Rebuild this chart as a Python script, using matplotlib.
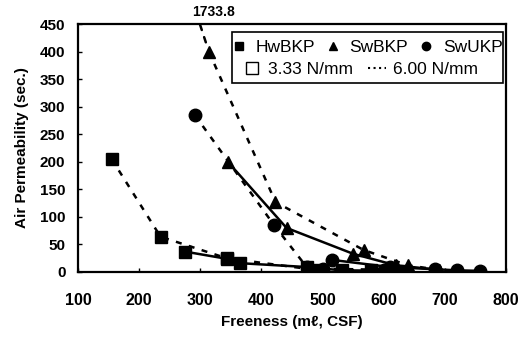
import matplotlib.pyplot as plt
from matplotlib.lines import Line2D
from matplotlib.patches import Rectangle

plt.rcParams['font.family'] = ['Liberation Sans', 'DejaVu Sans']

# HwBKP
hw_333_x = [275, 343, 365, 474, 531, 632]
hw_333_y = [37, 24, 16, 9, 3, 2]
hw_600_x = [155, 235, 343, 487, 580]
hw_600_y = [205, 64, 25, 4, 3]

# SwBKP
swb_333_x = [345, 441, 550, 620, 690]
swb_333_y = [200, 80, 33, 12, 4]
swb_600_x = [314, 423, 567, 640, 690]
swb_600_y = [400, 127, 40, 12, 4]
swb_offscale = 1733.8   # first 6.00 N/mm point, beyond axis

# SwUKP
swu_333_x = [515, 610, 684, 720, 758]
swu_333_y = [22, 9, 5, 3, 2]
swu_600_x = [291, 420, 474, 500, 600]
swu_600_y = [285, 86, 9, 6, 4]

xticks = [100, 200, 300, 400, 500, 600, 700, 800]
yticks = [0, 50, 100, 150, 200, 250, 300, 350, 400, 450]

fig = plt.figure(figsize=(5.22, 3.46), dpi=100)
ax = fig.add_axes([0.1494, 0.2139, 0.82, 0.7167])

dash = (0, (2.4, 3.0))
lw = 1.8
ms = 9

ax.plot(hw_600_x, hw_600_y, color='k', ls=dash, lw=lw, marker='s', ms=ms)
ax.plot(hw_333_x, hw_333_y, color='k', ls='-', lw=lw, marker='s', ms=ms)
ax.plot(swb_600_x, swb_600_y, color='k', ls=dash, lw=lw, marker='^', ms=ms)
ax.plot(swb_333_x, swb_333_y, color='k', ls='-', lw=lw, marker='^', ms=ms)
ax.plot(swu_600_x, swu_600_y, color='k', ls=dash, lw=lw, marker='o', ms=ms)
ax.plot(swu_333_x, swu_333_y, color='k', ls='-', lw=lw, marker='o', ms=ms)

# off-scale point label
ax.annotate(f'{swb_offscale:.1f}', xy=(swb_600_x[0], swb_600_y[0]), xytext=(321, 472),
            ha='center', va='center', fontsize=10, fontweight='bold',
            annotation_clip=False,
            arrowprops=dict(arrowstyle='-', color='k', lw=lw, ls=dash,
                            shrinkA=2, shrinkB=7, relpos=(0.15, 0)))

ax.set_xlim(100, 800)
ax.set_ylim(0, 450)
ax.set_xticks(xticks)
ax.set_yticks(yticks)
ax.tick_params(direction='in', length=3, width=1)
for lab in ax.get_xticklabels():
    lab.set_fontsize(11.5)
    lab.set_fontweight('bold')
for lab in ax.get_yticklabels():
    lab.set_fontsize(11)
    lab.set_fontweight('bold')
ax.tick_params(axis='x', pad=15)
ax.tick_params(axis='y', pad=9)
for s in ax.spines.values():
    s.set_linewidth(1.6)

ax.set_xlabel('Freeness (m\u2113, CSF)', fontsize=11, fontweight='bold', labelpad=5)
ax.set_ylabel('Air Permeability (sec.)', fontsize=11, fontweight='bold', labelpad=8)

# legend box
ax.add_patch(Rectangle((0.36, 0.762), 0.633, 0.206, transform=ax.transAxes,
                       facecolor='white', edgecolor='k', lw=1.2, zorder=5))
h1 = [Line2D([], [], color='k', ls='none', marker='s', ms=6),
      Line2D([], [], color='k', ls='none', marker='^', ms=6),
      Line2D([], [], color='k', ls='none', marker='o', ms=6)]
leg1 = ax.legend(h1, ['HwBKP', 'SwBKP', 'SwUKP'], ncol=3, frameon=False,
                 loc='center', bbox_to_anchor=(0.677, 0.905), fontsize=12.5,
                 handlelength=0.7, handletextpad=0.6, columnspacing=0.7,
                 borderpad=0, borderaxespad=0)
leg1.set_zorder(6)
ax.add_artist(leg1)
h2 = [Line2D([], [], color='k', ls='none', marker='s', ms=8, mfc='white', mew=1),
      Line2D([], [], color='k', ls=':', lw=1.5)]
leg2 = ax.legend(h2, ['3.33 N/mm', '6.00 N/mm'], ncol=2, frameon=False,
                 loc='center', bbox_to_anchor=(0.66, 0.815), fontsize=12.5,
                 handlelength=1.0, handletextpad=0.4, columnspacing=0.9,
                 borderpad=0, borderaxespad=0)
leg2.set_zorder(6)

fig.savefig('out.png', dpi=100)
